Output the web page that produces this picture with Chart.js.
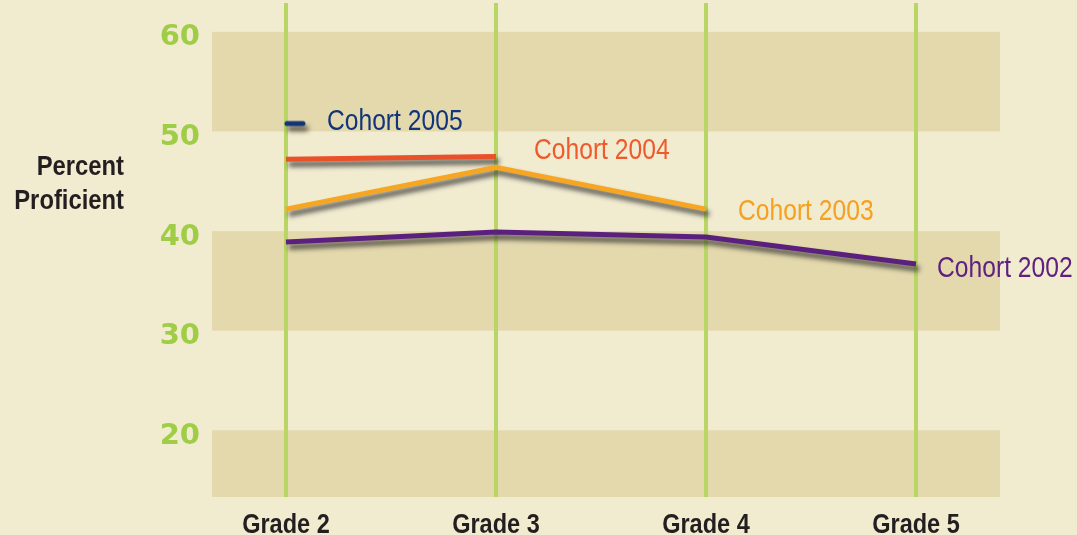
<!DOCTYPE html>
<html>
<head>
<meta charset="utf-8">
<script src="https://cdn.jsdelivr.net/npm/chart.js@4.4.1/dist/chart.umd.min.js"></script>
<style>
  html, body { margin: 0; padding: 0; background: #f1ebd0; }
  canvas { display: block; }
</style>
</head>
<body>
<canvas id="myChart" width="1077" height="535"></canvas>
<script>
// data
var grades = [2, 3, 4, 5];
var gradeLabels = ['Grade 2', 'Grade 3', 'Grade 4', 'Grade 5'];
var yTicks = [20, 30, 40, 50, 60];
var cohortNames = ['Cohort 2002', 'Cohort 2003', 'Cohort 2004', 'Cohort 2005'];
var cohort2002 = [38.9, 39.9, 39.4, 36.7];
var cohort2003 = [42.2, 46.4, 42.2, null];
var cohort2004 = [47.2, 47.5, null, null];
var cohort2005 = [50.8, null, null, null];
var bands = [[10, 20], [30, 40], [50, 60]];

var SANS = "'Liberation Sans', Arial, sans-serif";
var colors = ['#5b1f7e', '#f6a623', '#e9512b', '#143478'];
var textColors = ['#5e2180', '#f5a020', '#ee5a2c', '#12347a'];
var labelOffsets = [[21, 13], [32, 11], [38, 3], [41, 6]];

function toPoints(values) {
    return values.map(function (v, i) { return { x: grades[i], y: v }; });
}

// no condensed face installed, so squeeze a normal one
function narrowText(ctx, text, x, y, align, squeeze) {
    ctx.save();
    ctx.translate(x, y);
    ctx.scale(squeeze, 1);
    ctx.textAlign = align;
    ctx.fillText(text, 0, 0);
    ctx.restore();
}

// short dash that starts at the point and runs to the right
var dash = document.createElement('canvas');
dash.width = 44; dash.height = 10;
var dctx = dash.getContext('2d');
dctx.strokeStyle = colors[3];
dctx.lineWidth = 5;
dctx.lineCap = 'round';
dctx.beginPath(); dctx.moveTo(23, 5); dctx.lineTo(39, 5); dctx.stroke();

var bandsPlugin = {
    id: 'bands',
    beforeDraw: function (chart) {
        var ctx = chart.ctx, area = chart.chartArea, y = chart.scales.y;
        ctx.save();
        ctx.fillStyle = '#e4d9ad';
        bands.forEach(function (b) {
            var top = Math.max(y.getPixelForValue(b[1]), area.top);
            var bottom = Math.min(y.getPixelForValue(b[0]), area.bottom);
            ctx.fillRect(area.left, top, area.right - area.left, bottom - top);
        });
        ctx.restore();
    }
};

var shadowPlugin = {
    id: 'shadow',
    beforeDatasetDraw: function (chart) {
        var ctx = chart.ctx;
        ctx.save();
        ctx.shadowColor = 'rgba(40, 40, 40, 0.8)';
        ctx.shadowBlur = 5;
        ctx.shadowOffsetX = 3;
        ctx.shadowOffsetY = 5;
    },
    afterDatasetDraw: function (chart) {
        chart.ctx.restore();
    }
};

var labelsPlugin = {
    id: 'texts',
    afterDatasetsDraw: function (chart) {
        var ctx = chart.ctx, x = chart.scales.x;
        ctx.save();
        ctx.textBaseline = 'alphabetic';
        ctx.font = '29px ' + SANS;
        chart.data.datasets.forEach(function (ds, i) {
            var meta = chart.getDatasetMeta(i);
            var last = null;
            ds.data.forEach(function (p, j) { if (p.y !== null) last = meta.data[j]; });
            if (!last) return;
            ctx.fillStyle = textColors[i];
            narrowText(ctx, cohortNames[i], last.x + labelOffsets[i][0], last.y + labelOffsets[i][1], 'left', 0.85);
        });
        ctx.fillStyle = '#231f20';
        ctx.font = 'bold 28px ' + SANS;
        narrowText(ctx, 'Percent', 124, 175, 'right', 0.85);
        narrowText(ctx, 'Proficient', 124, 209, 'right', 0.85);
        grades.forEach(function (g, i) {
            narrowText(ctx, gradeLabels[i], x.getPixelForValue(g), 533, 'center', 0.84);
        });
        ctx.restore();
    }
};

var ctx = document.getElementById('myChart').getContext('2d');
var myChart = new Chart(ctx, {
    type: 'line',
    data: {
        datasets: [
            { label: cohortNames[0], data: toPoints(cohort2002), borderColor: colors[0], borderWidth: 5, pointRadius: 0 },
            { label: cohortNames[1], data: toPoints(cohort2003), borderColor: colors[1], borderWidth: 5, pointRadius: 0 },
            { label: cohortNames[2], data: toPoints(cohort2004), borderColor: colors[2], borderWidth: 5, pointRadius: 0 },
            { label: cohortNames[3], data: toPoints(cohort2005), borderColor: colors[3], borderWidth: 5,
              pointStyle: dash, pointRadius: 10 }
        ]
    },
    options: {
        responsive: false,
        animation: false,
        events: [],
        layout: { autoPadding: false, padding: { top: 3, right: 77, bottom: 0, left: 0 } },
        plugins: { legend: { display: false }, tooltip: { enabled: false } },
        scales: {
            x: {
                type: 'linear',
                min: 1.648,
                max: 5.4,
                afterBuildTicks: function (s) { s.ticks = grades.map(function (g) { return { value: g }; }); },
                afterFit: function (s) { s.height = 38; s.paddingLeft = 0; s.paddingRight = 0; },
                grid: { color: '#b9d565', lineWidth: 4, drawTicks: false },
                border: { display: false },
                ticks: { display: false }
            },
            y: {
                min: 13.3,
                max: 62.9,
                afterBuildTicks: function (s) { s.ticks = yTicks.map(function (t) { return { value: t }; }); },
                afterFit: function (s) { s.width = 212; s.paddingTop = 0; s.paddingBottom = 0; },
                grid: { display: false, drawTicks: false },
                border: { display: false },
                ticks: {
                    padding: 12,
                    labelOffset: 6,
                    color: '#9fcd45',
                    font: { family: "'DejaVu Sans', sans-serif", size: 29, weight: 'bold' }
                }
            }
        }
    },
    plugins: [bandsPlugin, shadowPlugin, labelsPlugin]
});
</script>
</body>
</html>
